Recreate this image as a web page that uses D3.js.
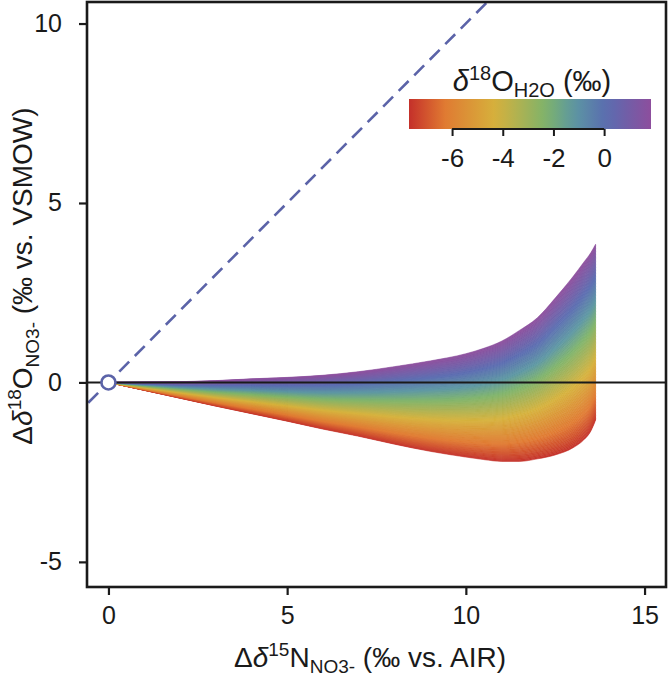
<!DOCTYPE html>
<html>
<head>
<meta charset="utf-8">
<script src="https://cdn.jsdelivr.net/npm/d3@7/dist/d3.min.js"></script>
<style>
  html, body { margin: 0; padding: 0; background: #fff; }
  svg { display: block; }
  text { font-family: "Liberation Sans", Arial, Helvetica, sans-serif; fill: #1a1a1a; }
</style>
</head>
<body>
<script>
// ---------------- data ----------------
const deltaN15 = [0, 1, 2, 3, 4, 5, 6, 7, 8, 9, 10, 10.5, 11, 11.5, 12, 12.5, 13, 13.3, 13.5, 13.63];
// Δδ18O of the boundary curves: δ18O_H2O at the top of the colour range (purple) and bottom (red)
const upperO18 = [0, 0.01, 0.02, 0.05, 0.1, 0.14, 0.2, 0.3, 0.44, 0.6, 0.8, 0.95, 1.15, 1.45, 1.8, 2.35, 2.95, 3.35, 3.62, 3.85];
const lowerO18 = [0, -0.22, -0.44, -0.66, -0.87, -1.08, -1.3, -1.5, -1.72, -1.92, -2.08, -2.15, -2.2, -2.2, -2.13, -2.02, -1.82, -1.6, -1.35, -1.05];
const h2oRange = [-7.7, 1.85];           // δ18O_H2O of lower / upper curve
const colorStopValues = [-7.7, -6.3, -4.3, -2.3, -1.2, 0.1, 1.85];
const colorStopColors = ["#c4302a", "#e07a32", "#d6b13c", "#7fb36a", "#5c97a2", "#5a6cb0", "#8d4e9d"];
const xTicks = [0, 5, 10, 15];
const yTicks = [-5, 0, 5, 10];
const cbTicks = [-6, -4, -2, 0];
const oneToOne = [[-1, -1], [12, 12]];

// ---------------- layout ----------------
const W = 669, H = 680;
const L = 87, R = 666, T = 2, B = 587;
const svg = d3.select("body").append("svg").attr("width", W).attr("height", H);

const x = d3.scaleLinear().domain([-0.6, 15.6]).range([L, R]);
const y = d3.scaleLinear().domain([-5.7, 10.6]).range([B, T]);
const color = d3.scaleLinear().domain(colorStopValues).range(colorStopColors).interpolate(d3.interpolateRgb);

const defs = svg.append("defs");
defs.append("clipPath").attr("id", "plotclip")
  .append("rect").attr("x", L).attr("y", T).attr("width", R - L).attr("height", B - T);

const plot = svg.append("g").attr("clip-path", "url(#plotclip)");

// ---------------- coloured model field ----------------
const N = 120;
const pts = deltaN15.map((n, i) => ({ n, lo: lowerO18[i], hi: upperO18[i] }));
const band = d3.area()
  .x(d => x(d.n))
  .curve(d3.curveMonotoneX);
for (let k = 0; k < N; k++) {
  const t0 = k / N, t1 = (k + 1) / N, tm = (k + 0.5) / N;
  const v = h2oRange[0] + tm * (h2oRange[1] - h2oRange[0]);
  const c = color(v);
  band.y0(d => y(d.lo + t0 * (d.hi - d.lo))).y1(d => y(d.lo + t1 * (d.hi - d.lo)));
  plot.append("path").attr("d", band(pts))
    .attr("fill", c).attr("stroke", c).attr("stroke-width", 0.6);
}

// zero line
plot.append("line").attr("x1", L).attr("x2", R).attr("y1", y(0)).attr("y2", y(0))
  .attr("stroke", "#1a1a1a").attr("stroke-width", 2);

// 1:1 dashed line
plot.append("line")
  .attr("x1", x(oneToOne[0][0])).attr("y1", y(oneToOne[0][1]))
  .attr("x2", x(oneToOne[1][0])).attr("y2", y(oneToOne[1][1]))
  .attr("stroke", "#5b63a8").attr("stroke-width", 2.6).attr("stroke-dasharray", "14,8");

// origin marker
svg.append("circle").attr("cx", x(0)).attr("cy", y(0)).attr("r", 7)
  .attr("fill", "#fff").attr("stroke", "#5b63a8").attr("stroke-width", 2.6);

// ---------------- axes ----------------
const fmt = d => d < 0 ? "-" + Math.abs(d) : d;
const xAxis = svg.append("g").attr("transform", `translate(0,${B})`)
  .call(d3.axisBottom(x).tickValues(xTicks).tickSize(8).tickPadding(10).tickFormat(fmt));
const yAxis = svg.append("g").attr("transform", `translate(${L},0)`)
  .call(d3.axisLeft(y).tickValues(yTicks).tickSize(8).tickPadding(17).tickFormat(fmt));
[xAxis, yAxis].forEach(g => {
  g.select(".domain").remove();
  g.selectAll(".tick line").attr("stroke", "#1a1a1a").attr("stroke-width", 2.2);
  g.selectAll(".tick text").attr("font-size", 25).attr("font-family", "Liberation Sans, Arial, sans-serif").attr("fill", "#1a1a1a");
});
xAxis.selectAll(".tick text").attr("dy", "0.75em");

// frame
svg.append("rect").attr("x", L).attr("y", T).attr("width", R - L).attr("height", B - T)
  .attr("fill", "none").attr("stroke", "#1a1a1a").attr("stroke-width", 2.6);

// axis titles
const xt = svg.append("text").attr("x", 370).attr("y", 667).attr("text-anchor", "middle").attr("font-size", 28);
xt.append("tspan").text("Δ");
xt.append("tspan").attr("font-style", "italic").text("δ");
xt.append("tspan").attr("font-size", 19).attr("dy", -11).text("15");
xt.append("tspan").attr("dy", 11).text("N");
xt.append("tspan").attr("font-size", 19).attr("dy", 6).text("NO3-");
xt.append("tspan").attr("dy", -6).text(" (‰ vs. AIR)");

const yt = svg.append("text").attr("transform", "translate(32,276) rotate(-90)")
  .attr("text-anchor", "middle").attr("font-size", 28);
yt.append("tspan").text("Δ");
yt.append("tspan").attr("font-style", "italic").text("δ");
yt.append("tspan").attr("font-size", 19).attr("dy", -11).text("18");
yt.append("tspan").attr("dy", 11).text("O");
yt.append("tspan").attr("font-size", 19).attr("dy", 7).text("NO3-");
yt.append("tspan").attr("dy", -7).text(" (‰ vs. VSMOW)");

// ---------------- colour bar ----------------
const cbX0 = 409, cbX1 = 651, cbY = 99, cbH = 30;
const cb = d3.scaleLinear().domain(h2oRange).range([cbX0, cbX1]);
const grad = defs.append("linearGradient").attr("id", "cbgrad").attr("x1", "0%").attr("x2", "100%");
d3.range(0, 1.0001, 0.05).forEach(t => {
  grad.append("stop").attr("offset", (t * 100) + "%")
    .attr("stop-color", color(h2oRange[0] + t * (h2oRange[1] - h2oRange[0])));
});
svg.append("rect").attr("x", cbX0).attr("y", cbY).attr("width", cbX1 - cbX0).attr("height", cbH)
  .attr("fill", "url(#cbgrad)");
const cbAxis = svg.append("g").attr("transform", `translate(0,${cbY + cbH})`)
  .call(d3.axisBottom(cb).tickValues(cbTicks).tickSize(7).tickPadding(11).tickFormat(fmt));
cbAxis.select(".domain").remove();
cbAxis.append("line").attr("x1", cb(cbTicks[0])).attr("x2", cb(cbTicks[cbTicks.length - 1]))
  .attr("y1", 0).attr("y2", 0).attr("stroke", "#1a1a1a").attr("stroke-width", 2);
cbAxis.selectAll(".tick line").attr("stroke", "#1a1a1a").attr("stroke-width", 2);
cbAxis.selectAll(".tick text").attr("font-size", 26).attr("dy", "0.75em")
  .attr("font-family", "Liberation Sans, Arial, sans-serif").attr("fill", "#1a1a1a");

const ct = svg.append("text").attr("x", 532).attr("y", 91).attr("text-anchor", "middle").attr("font-size", 29);
ct.append("tspan").attr("font-style", "italic").text("δ");
ct.append("tspan").attr("font-size", 20).attr("dy", -11).text("18");
ct.append("tspan").attr("dy", 11).text("O");
ct.append("tspan").attr("font-size", 20).attr("dy", 6).text("H2O");
ct.append("tspan").attr("dy", -6).text(" (‰)");
</script>
</body>
</html>
